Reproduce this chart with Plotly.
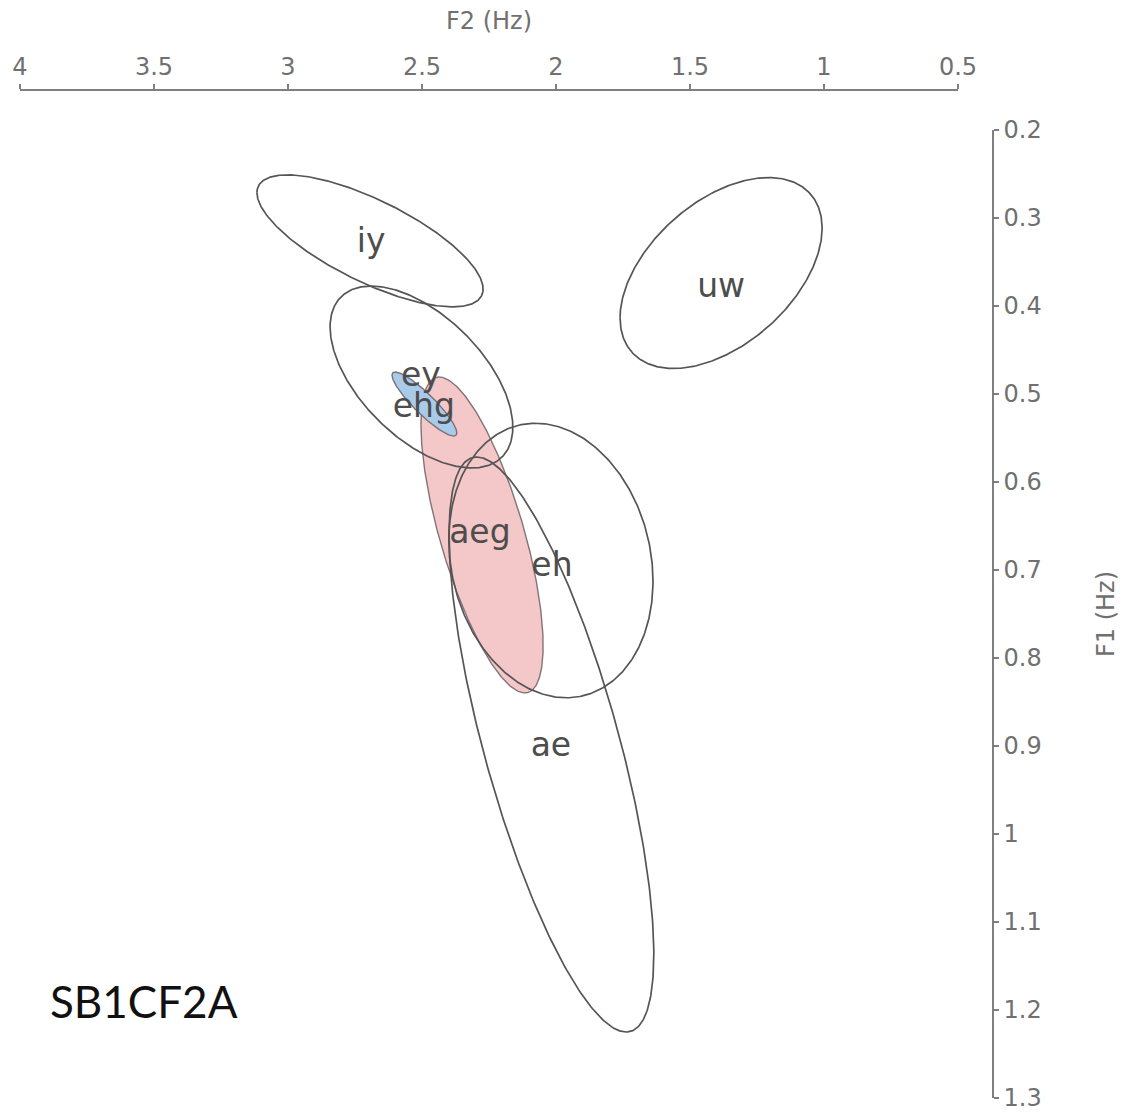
import numpy as np
import plotly.graph_objects as go

# ---- data ----
vowels = ["iy", "uw", "ey", "ehg", "aeg", "eh", "ae"]
f2_mean = [2.694, 1.384, 2.502, 2.491, 2.276, 2.019, 2.017]
f1_mean = [0.326, 0.3625, 0.4807, 0.5114, 0.6602, 0.6892, 0.8983]
f2_spread = [0.422, 0.377, 0.341, 0.121, 0.228, 0.381, 0.382]
f1_spread = [0.075, 0.1085, 0.1034, 0.0364, 0.1795, 0.156, 0.3267]
f1_f2_corr = [-0.73, 0.47, -0.55, -0.90, -0.70, -0.15, -0.73]
fills = [None, None, None, "#A9CBEA", "#F4C7C8", None, None]

label_f2 = [2.690, 1.384, 2.504, 2.493, 2.284, 2.015, 2.019]
label_f1 = [0.3287, 0.3799, 0.481, 0.5162, 0.6594, 0.698, 0.9015]

x_ticks = [4, 3.5, 3, 2.5, 2, 1.5, 1, 0.5]
x_ticktext = ["4", "3.5", "3", "2.5", "2", "1.5", "1", "0.5"]
y_ticks = [0.2, 0.3, 0.4, 0.5, 0.6, 0.7, 0.8, 0.9, 1.0, 1.1, 1.2, 1.3]
y_ticktext = ["0.2", "0.3", "0.4", "0.5", "0.6", "0.7", "0.8", "0.9", "1", "1.1", "1.2", "1.3"]
speaker = "SB1CF2A"

W, H = 1126, 1113


def px(x):
    return x / W


def py(y):
    return 1 - y / H


t = np.linspace(0, 2 * np.pi, 400)


def ellipse(i):
    r = f1_f2_corr[i]
    x = f2_mean[i] + f2_spread[i] * np.cos(t)
    y = f1_mean[i] + f1_spread[i] * (r * np.cos(t) + np.sqrt(1 - r * r) * np.sin(t))
    return x, y


fig = go.Figure()

# filled ellipses first (pink then blue)
for i in [4, 3]:
    x, y = ellipse(i)
    fig.add_trace(go.Scatter(
        x=x, y=y, mode="lines", fill="toself", fillcolor=fills[i],
        line=dict(color="rgba(110,95,100,0.85)", width=1.4),
        hoverinfo="skip", showlegend=False, name=vowels[i]))

# outlines
for i in [0, 1, 2, 5, 6]:
    x, y = ellipse(i)
    fig.add_trace(go.Scatter(
        x=x, y=y, mode="lines",
        line=dict(color="#555555", width=1.7),
        hoverinfo="skip", showlegend=False, name=vowels[i]))

# vowel labels
fig.add_trace(go.Scatter(
    x=label_f2, y=label_f1, mode="text", text=vowels,
    textposition="middle center",
    textfont=dict(family="DejaVu Sans", size=33, color="#4d4d4d"),
    hoverinfo="skip", showlegend=False))

axis_color = "#7f7f7f"
tick_font = dict(family="DejaVu Sans", size=24, color="#707070")

fig.update_layout(
    width=W, height=H,
    margin=dict(l=0, r=0, t=0, b=0, autoexpand=False),
    paper_bgcolor="white", plot_bgcolor="white",
    xaxis=dict(
        domain=[px(20), px(958)], range=[4, 0.5], automargin=False,
        side="top", anchor="free", position=py(90),
        showline=True, linecolor=axis_color, linewidth=1.5,
        ticks="outside", ticklen=5, tickcolor=axis_color, tickwidth=1.5,
        tickvals=x_ticks, ticktext=x_ticktext, tickfont=tick_font,
        showgrid=False, zeroline=False,
        title=dict(text="F2 (Hz)", font=tick_font, standoff=15),
    ),
    yaxis=dict(
        domain=[py(1098), py(130)], range=[1.3, 0.2], automargin=False,
        side="right", anchor="free", position=px(993),
        showline=True, linecolor=axis_color, linewidth=1.5,
        ticks="outside", ticklen=5, tickcolor=axis_color, tickwidth=1.5,
        tickvals=y_ticks, ticktext=y_ticktext, tickfont=tick_font,
        showgrid=False, zeroline=False,
        title=dict(text="F1 (Hz)", font=tick_font, standoff=55),
    ),
    annotations=[dict(
        text=speaker, xref="paper", yref="paper",
        x=px(48), y=py(1001), xanchor="left", yanchor="middle",
        showarrow=False, font=dict(family="Lato", size=44, color="#111111"),
    )],
)

fig.write_html("out.html")
